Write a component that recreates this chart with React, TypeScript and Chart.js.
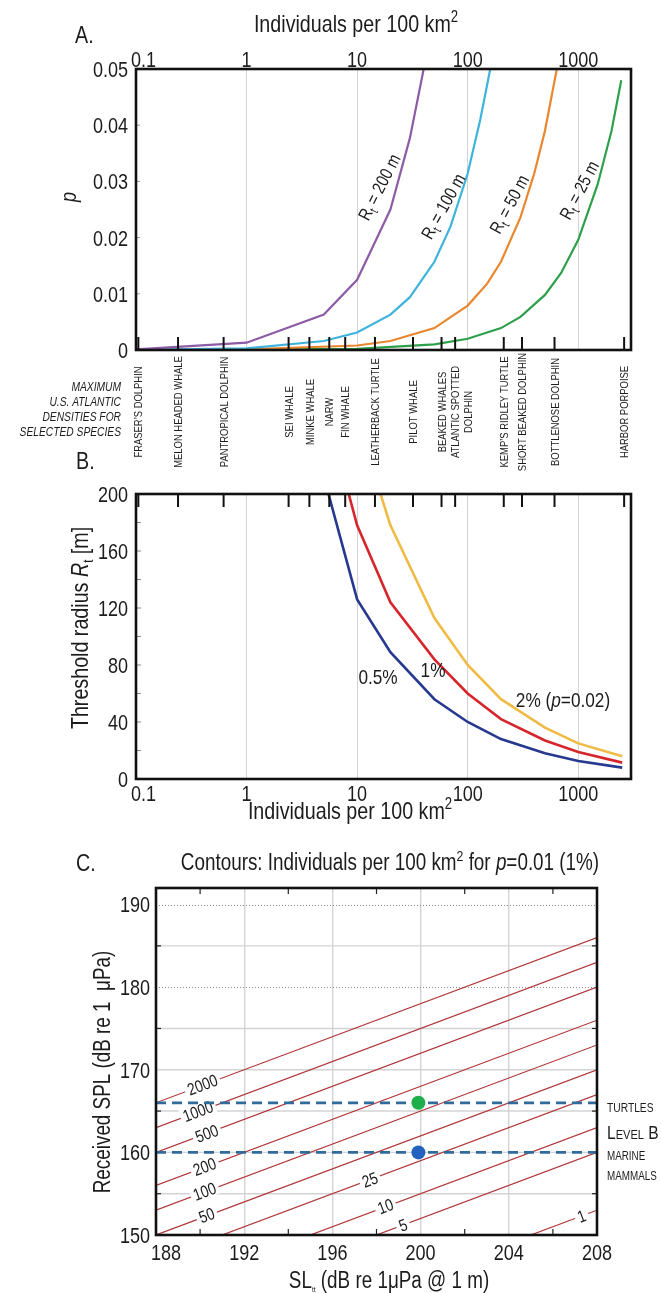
import React, { useEffect, useRef } from "react";
import { Chart, registerables } from "chart.js";
Chart.register(...registerables);

const FONT = '"Liberation Sans", Arial, Helvetica, sans-serif';
const SX = 0.82; // horizontal condensing to mimic a narrow sans
const fnt = (size: number, style = "") => `${style ? style + " " : ""}${size}px ${FONT}`;
const INK = "#1c1c1c";
const GRID = "#d3d3d3";

// ---------- shared density axis ----------
const densityTicks = [0.1, 1, 10, 100, 1000];
const densityMin = 0.1;
const densityMax = 3000;

// ---------- panel A : p vs density ----------
const pTicks = [0, 0.01, 0.02, 0.03, 0.04, 0.05];
const rt200X = [0.1, 1, 5, 10, 20, 30, 40];
const rt200P = [0.0001, 0.0013, 0.0063, 0.0125, 0.025, 0.0377, 0.05];
const rt100X = [0.1, 1, 5, 10, 20, 30, 50, 70, 100, 130, 160];
const rt100P = [0.00003, 0.0003, 0.0016, 0.0031, 0.0063, 0.0094, 0.0157, 0.022, 0.0314, 0.041, 0.05];
const rt50X = [0.1, 1, 10, 20, 50, 100, 150, 200, 300, 400, 500, 640];
const rt50P = [0, 0.0001, 0.0008, 0.0016, 0.0039, 0.0079, 0.0118, 0.0157, 0.0236, 0.0314, 0.039, 0.05];
const rt25X = [0.1, 10, 50, 100, 200, 300, 500, 700, 1000, 1500, 2000, 2450];
const rt25P = [0, 0.0002, 0.001, 0.002, 0.0039, 0.0059, 0.0098, 0.0137, 0.0196, 0.0295, 0.039, 0.048];
const curveLabelsA = ["200", "100", "50", "25"];

// ---------- species ----------
const speciesNames = [
  "FRASER’S DOLPHIN", "MELON HEADED WHALE", "PANTROPICAL DOLPHIN", "SEI WHALE", "MINKE WHALE",
  "NARW", "FIN WHALE", "LEATHERBACK TURTLE", "PILOT WHALE", "BEAKED WHALES",
  "ATLANTIC SPOTTED|DOLPHIN", "KEMP’S RIDLEY TURTLE", "SHORT BEAKED DOLPHIN", "BOTTLENOSE DOLPHIN", "HARBOR PORPOISE",
];
const speciesDensity = [0.105, 0.24, 0.62, 2.4, 3.7, 5.6, 7.8, 14.5, 32, 58, 77, 212, 310, 610, 2600];
const speciesNote = ["MAXIMUM", "U.S. ATLANTIC", "DENSITIES FOR", "SELECTED SPECIES"];

// ---------- panel B : threshold radius vs density ----------
const rTicks = [0, 40, 80, 120, 160, 200];
const half_X = [5, 10, 20, 50, 100, 200, 500, 1000, 2500];
const half_R = [212, 126, 89, 56, 40, 28, 18, 12.6, 8];
const one_X = [5, 10, 20, 50, 100, 200, 500, 1000, 2500];
const one_R = [265, 178, 124, 84, 60, 42, 27, 19, 11.5];
const two_X = [10, 20, 50, 100, 200, 500, 1000, 2500];
const two_R = [252, 178, 113, 80, 56, 36, 25, 16];

// ---------- panel C : contours ----------
const slTicks = [188, 192, 196, 200, 204, 208];
const splTicks = [150, 160, 170, 180, 190];
const splGridSolid = [155, 160, 165, 170, 175, 185];
const splGridDotted = [180, 190];
const slMinor = [190, 194, 198, 202, 206];
const splMinor = [155, 165, 175, 185];
const contourLabels = ["2000", "1000", "500", "200", "100", "50", "25", "10", "5", "1"];
const contourStartSL = [188, 188, 188, 188, 188, 188, 188, 188, 188, 188];
const contourStartSPL = [166, 163, 160, 156, 153, 150, 147, 143, 140, 133];
const contourEndSL = [208, 208, 208, 208, 208, 208, 208, 208, 208, 208];
const contourEndSPL = [186, 183, 180, 176, 173, 170, 167, 163, 160, 153];
const contourLabelSL = [190.1, 189.9, 190.3, 190.2, 190.2, 190.3, 197.7, 198.4, 199.2, 207.3];
const contourLabelSPL = [168.2, 165.0, 162.3, 158.3, 155.3, 152.4, 156.7, 153.5, 151.2, 152.3];
const levelSL = [188, 208];
const turtleSPL = 166;
const mammalSPL = 160;
const sourceSL = 199.9;

// ---------- helpers ----------
type Run = { t: string; size: number; style?: string; dy?: number };
function runsWidth(ctx: CanvasRenderingContext2D, runs: Run[]) {
  return runs.map((r) => {
    ctx.font = fnt(r.size, r.style);
    return ctx.measureText(r.t).width * SX;
  });
}
function drawRuns(ctx: CanvasRenderingContext2D, runs: Run[], x: number, y: number, align: "left" | "center" | "right", minLeft = -Infinity) {
  const ws = runsWidth(ctx, runs);
  const total = ws.reduce((s, w) => s + w, 0);
  let cx = align === "left" ? x : align === "center" ? x - total / 2 : x - total;
  if (cx < minLeft) cx = minLeft;
  ctx.textAlign = "left";
  ctx.textBaseline = "alphabetic";
  runs.forEach((r, i) => {
    ctx.save();
    ctx.font = fnt(r.size, r.style);
    ctx.translate(cx, y + (r.dy || 0));
    ctx.scale(SX, 1);
    ctx.fillText(r.t, 0, 0);
    ctx.restore();
    cx += ws[i];
  });
}
function txt(ctx: CanvasRenderingContext2D, t: string, size: number, x: number, y: number, align: "left" | "center" | "right", style = "", minLeft = -Infinity) {
  drawRuns(ctx, [{ t, size, style }], x, y, align, minLeft);
}
function rotRuns(ctx: CanvasRenderingContext2D, runs: Run[], cx: number, cy: number, deg: number, size: number) {
  ctx.save();
  ctx.translate(cx, cy);
  ctx.rotate((deg * Math.PI) / 180);
  drawRuns(ctx, runs, 0, size * 0.36, "center");
  ctx.restore();
}
function seg(ctx: CanvasRenderingContext2D, x1: number, y1: number, x2: number, y2: number) {
  ctx.beginPath();
  ctx.moveTo(x1, y1);
  ctx.lineTo(x2, y2);
  ctx.stroke();
}
// tick labels taken from the library's scale ticks and pixel mapping
function tickLabels(ctx: CanvasRenderingContext2D, scale: any, side: "left" | "top" | "bottom", at: number, fmt: (v: number) => string, size = 22) {
  ctx.fillStyle = INK;
  scale.ticks.forEach((tk: any) => {
    const p = scale.getPixelForValue(tk.value);
    const s = fmt(tk.value);
    if (side === "left") txt(ctx, s, size, at, p + size * 0.36, "right");
    else txt(ctx, s, size, p, at, "center", "", scale.left - 5);
  });
}
const lineDs = (xs: number[], ys: number[], color: string, width = 2.2, extra: any = {}) => ({
  data: xs.map((x, i) => ({ x, y: ys[i] })),
  showLine: true,
  borderColor: color,
  backgroundColor: color,
  borderWidth: width,
  pointRadius: 0,
  tension: 0,
  fill: false,
  clip: 0,
  ...extra,
});
const densityAxis = (position: string, height: number) => ({
  type: "logarithmic",
  position,
  min: densityMin,
  max: densityMax,
  afterBuildTicks: (s: any) => {
    s.ticks = densityTicks.map((v) => ({ value: v }));
  },
  afterFit: (s: any) => {
    s.height = height;
  },
  ticks: { display: false, autoSkip: false },
  grid: { color: GRID, lineWidth: 1, drawTicks: false },
  border: { display: false },
});
const yAxis = (min: number, max: number, ticks: number[], width: number) => ({
  min,
  max,
  afterBuildTicks: (s: any) => {
    s.ticks = ticks.map((v) => ({ value: v }));
  },
  afterFit: (s: any) => {
    s.width = width;
  },
  ticks: { display: false },
  grid: { display: false, drawTicks: false },
  border: { display: false },
});
const baseOpts = (padding: any) => ({
  animation: false,
  responsive: false,
  devicePixelRatio: 1,
  layout: { padding },
  plugins: { legend: { display: false }, tooltip: { enabled: false }, title: { display: false } },
});
function box(ctx: CanvasRenderingContext2D, a: any) {
  ctx.strokeStyle = "#111";
  ctx.lineWidth = 2.6;
  ctx.strokeRect(a.left, a.top, a.right - a.left, a.bottom - a.top);
}
const fmtDensity = (v: number) => String(v);

// ---------- panel A ----------
const plugA = {
  id: "plugA",
  afterDraw(chart: any) {
    const { ctx, chartArea: a, scales } = chart;
    const x = scales.x;
    const y = scales.y;
    ctx.save();
    ctx.strokeStyle = "#9a9a9a";
    ctx.lineWidth = 1;
    pTicks.forEach((v) => {
      const py = y.getPixelForValue(v);
      seg(ctx, a.left, py, a.left + 4, py);
    });
    ctx.strokeStyle = "#111";
    ctx.lineWidth = 2;
    speciesDensity.forEach((d) => {
      const px = x.getPixelForValue(d);
      seg(ctx, px, a.bottom, px, a.bottom - 13);
    });
    box(ctx, a);
    tickLabels(ctx, x, "top", a.top - 2, fmtDensity);
    tickLabels(ctx, y, "left", a.left - 8, (v) => (v === 0 ? "0" : v.toFixed(2)));
    ctx.fillStyle = INK;
    // species labels
    speciesNames.forEach((n, i) => {
      const px = x.getPixelForValue(speciesDensity[i]);
      n.split("|").forEach((p, j) => {
        rotRuns(ctx, [{ t: p, size: 11.5 }], px + j * 13, 412, -90, 11.5);
      });
    });
    speciesNote.forEach((t, i) => txt(ctx, t, 12.5, 121, 391 + i * 15, "right", "italic"));
    // curve labels
    const pos = [
      [379, 187, -63],
      [443, 206, -61],
      [509, 204, -62],
      [579, 190, -62],
    ];
    curveLabelsA.forEach((l, i) => {
      rotRuns(ctx, [{ t: "R", size: 18 }, { t: "t", size: 13, dy: 4 }, { t: " = " + l + " m", size: 18 }], pos[i][0], pos[i][1], pos[i][2], 18);
    });
    // titles
    txt(ctx, "A.", 24, 75, 43, "left");
    drawRuns(ctx, [{ t: "Individuals per 100 km", size: 24 }, { t: "2", size: 16, dy: -10 }], 356, 32, "center");
    rotRuns(ctx, [{ t: "p", size: 22, style: "italic" }], 68, 197, -90, 22);
    txt(ctx, "B.", 24, 76, 469, "left");
    ctx.restore();
  },
};
const configA = () => ({
  type: "scatter",
  data: {
    datasets: [
      lineDs(rt200X, rt200P, "#8d5ca6"),
      lineDs(rt100X, rt100P, "#3eb3dc"),
      lineDs(rt50X, rt50P, "#e8872e"),
      lineDs(rt25X, rt25P, "#2e9f4b"),
    ],
  },
  options: {
    ...baseOpts({ left: 0, top: 0, right: 30, bottom: 130 }),
    scales: {
      x: densityAxis("top", 69),
      y: yAxis(0, 0.05, pTicks, 136),
    },
  },
  plugins: [plugA],
});

// ---------- panel B ----------
const TOP_B = 480;
const plugB = {
  id: "plugB",
  afterDraw(chart: any) {
    const { ctx, chartArea: a, scales } = chart;
    const x = scales.x;
    const y = scales.y;
    ctx.save();
    ctx.strokeStyle = "#888";
    ctx.lineWidth = 1;
    for (let v = 20; v < 200; v += 20) {
      const py = y.getPixelForValue(v);
      seg(ctx, a.left, py, a.left + 5, py);
    }
    ctx.strokeStyle = "#111";
    ctx.lineWidth = 2;
    speciesDensity.forEach((d) => {
      const px = x.getPixelForValue(d);
      seg(ctx, px, a.top, px, a.top + 13);
    });
    box(ctx, a);
    tickLabels(ctx, x, "bottom", a.bottom + 22, fmtDensity);
    tickLabels(ctx, y, "left", a.left - 8, (v) => String(v));
    ctx.translate(0, -TOP_B);
    ctx.fillStyle = INK;
    rotRuns(
      ctx,
      [{ t: "Threshold radius ", size: 24 }, { t: "R", size: 24, style: "italic" }, { t: "t", size: 14, dy: 5 }, { t: " [m]", size: 24 }],
      79, 628, -90, 24
    );
    drawRuns(ctx, [{ t: "Individuals per 100 km", size: 24 }, { t: "2", size: 16, dy: -10 }], 350, 819, "center");
    txt(ctx, "0.5%", 21, 378, 684, "center");
    txt(ctx, "1%", 21, 433, 677, "center");
    drawRuns(ctx, [{ t: "2% (", size: 21 }, { t: "p", size: 21, style: "italic" }, { t: "=0.02)", size: 21 }], 563, 707, "center");
    ctx.restore();
  },
};
const configB = () => ({
  type: "scatter",
  data: {
    datasets: [
      lineDs(half_X, half_R, "#26388f", 2.6),
      lineDs(one_X, one_R, "#d6262b", 2.6),
      lineDs(two_X, two_R, "#f0bb45", 2.6),
    ],
  },
  options: {
    ...baseOpts({ left: 0, top: 14, right: 30, bottom: 0 }),
    scales: {
      x: densityAxis("bottom", 61),
      y: yAxis(0, 200, rTicks, 136),
    },
  },
  plugins: [plugB],
});

// ---------- panel C ----------
const TOP_C = 840;
const N_FIXED = 4;
const plugC = {
  id: "plugC",
  beforeDatasetsDraw(chart: any) {
    const { ctx, chartArea: a, scales } = chart;
    const y = scales.y;
    ctx.save();
    ctx.strokeStyle = GRID;
    ctx.lineWidth = 1.4;
    splGridSolid.forEach((v) => {
      const py = y.getPixelForValue(v);
      seg(ctx, a.left, py, a.right, py);
    });
    ctx.strokeStyle = "#8a8a8a";
    ctx.lineWidth = 1;
    ctx.setLineDash([1, 2]);
    splGridDotted.forEach((v) => {
      const py = Math.round(y.getPixelForValue(v)) + 0.5;
      seg(ctx, a.left, py, a.right, py);
    });
    ctx.restore();
  },
  afterDatasetDraw(chart: any, args: any) {
    const k = args.index - N_FIXED;
    if (k < 0) return;
    const { ctx, scales } = chart;
    const x = scales.x;
    const y = scales.y;
    const ang = Math.atan2(
      y.getPixelForValue(contourEndSPL[k]) - y.getPixelForValue(contourStartSPL[k]),
      x.getPixelForValue(contourEndSL[k]) - x.getPixelForValue(contourStartSL[k])
    );
    const px = x.getPixelForValue(contourLabelSL[k]);
    const py = y.getPixelForValue(contourLabelSPL[k]);
    ctx.save();
    ctx.translate(px, py);
    ctx.rotate(ang);
    ctx.font = fnt(17);
    const w = ctx.measureText(contourLabels[k]).width * SX;
    ctx.fillStyle = "#fff";
    ctx.fillRect(-w / 2 - 3, -7, w + 6, 14);
    ctx.fillStyle = INK;
    txt(ctx, contourLabels[k], 17, 0, 6, "center");
    ctx.restore();
  },
  afterDraw(chart: any) {
    const { ctx, chartArea: a, scales } = chart;
    const x = scales.x;
    const y = scales.y;
    ctx.save();
    ctx.strokeStyle = "#222";
    ctx.lineWidth = 1.2;
    slMinor.forEach((v) => {
      const px = x.getPixelForValue(v);
      seg(ctx, px, a.top, px, a.top + 6);
      seg(ctx, px, a.bottom, px, a.bottom - 6);
    });
    splMinor.forEach((v) => {
      const py = y.getPixelForValue(v);
      seg(ctx, a.left, py, a.left + 5, py);
      seg(ctx, a.right, py, a.right - 5, py);
    });
    box(ctx, a);
    tickLabels(ctx, x, "bottom", a.bottom + 25, (v) => String(v));
    tickLabels(ctx, y, "left", a.left - 6, (v) => String(v));
    ctx.translate(0, -TOP_C);
    ctx.fillStyle = INK;
    txt(ctx, "C.", 24, 76, 871, "left");
    drawRuns(
      ctx,
      [
        { t: "Contours: Individuals per 100 km", size: 23 },
        { t: "2", size: 15, dy: -9 },
        { t: " for ", size: 23 },
        { t: "p", size: 23, style: "italic" },
        { t: "=0.01 (1%)", size: 23 },
      ],
      390, 870, "center"
    );
    rotRuns(ctx, [{ t: "Received SPL (dB re 1  μPa)", size: 23 }], 102, 1072, -90, 23);
    drawRuns(ctx, [{ t: "SL", size: 23 }, { t: "tt", size: 8, dy: 4 }, { t: " (dB re 1μPa @ 1 m)", size: 23 }], 389, 1288, "center");
    txt(ctx, "TURTLES", 12.5, 607, 1112, "left");
    drawRuns(ctx, [{ t: "L", size: 19 }, { t: "EVEL", size: 13.5 }, { t: " B", size: 19 }], 607, 1139, "left");
    txt(ctx, "MARINE", 12, 607, 1160, "left");
    txt(ctx, "MAMMALS", 12, 607, 1180, "left");
    ctx.restore();
  },
};
const configC = () => {
  const contours = contourStartSPL.map((s, k) =>
    lineDs([contourStartSL[k], contourEndSL[k]], [s, contourEndSPL[k]], "#b0373a", 1.2)
  );
  return {
    type: "scatter",
    data: {
      datasets: [
        { data: [{ x: sourceSL, y: turtleSPL }], pointRadius: 7, pointBackgroundColor: "#1fae4c", pointBorderWidth: 0, showLine: false },
        { data: [{ x: sourceSL, y: mammalSPL }], pointRadius: 7, pointBackgroundColor: "#2462bf", pointBorderWidth: 0, showLine: false },
        lineDs(levelSL, [turtleSPL, turtleSPL], "#2f6c9c", 2.8, { borderDash: [10, 6] }),
        lineDs(levelSL, [mammalSPL, mammalSPL], "#2f6c9c", 2.8, { borderDash: [10, 6] }),
        ...contours,
      ],
    },
    options: {
      ...baseOpts({ left: 0, top: 48, right: 64, bottom: 0 }),
      scales: {
        x: {
          type: "linear",
          min: 188,
          max: 208,
          afterBuildTicks: (s: any) => {
            s.ticks = slTicks.map((v) => ({ value: v }));
          },
          afterFit: (s: any) => {
            s.height = 58;
          },
          ticks: { display: false },
          grid: { color: GRID, lineWidth: 1.4, drawTicks: false },
          border: { display: false },
        },
        y: yAxis(150, 192, splTicks, 156),
      },
    },
    plugins: [plugC],
  };
};

function Panel({ top, height, make }: { top: number; height: number; make: () => any }) {
  const ref = useRef<HTMLCanvasElement | null>(null);
  useEffect(() => {
    const c = new Chart(ref.current as HTMLCanvasElement, make());
    return () => c.destroy();
  }, []);
  return (
    <canvas
      ref={ref}
      width={661}
      height={height}
      style={{ position: "absolute", left: 0, top, width: 661, height, display: "block" }}
    />
  );
}

export default function App() {
  Chart.defaults.font.family = FONT;
  Chart.defaults.color = INK;
  return (
    <div style={{ position: "absolute", left: 0, top: 0, width: 661, height: 1293, background: "#fff", overflow: "hidden" }}>
      <Panel top={0} height={480} make={configA} />
      <Panel top={TOP_B} height={360} make={configB} />
      <Panel top={TOP_C} height={453} make={configC} />
    </div>
  );
}
